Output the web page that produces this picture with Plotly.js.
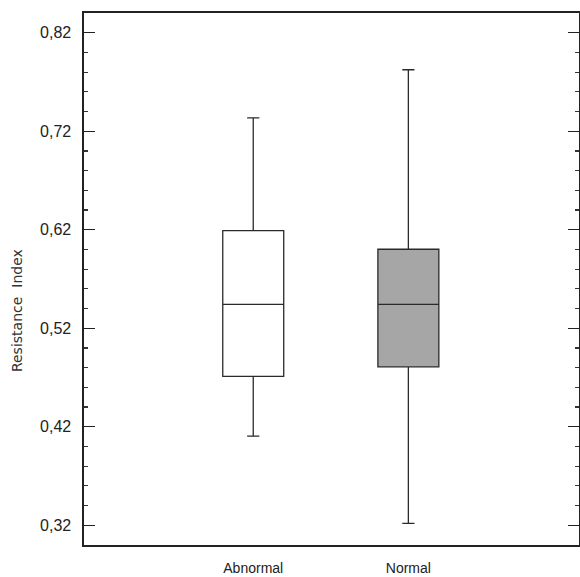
<!DOCTYPE html>
<html>
<head>
<meta charset="utf-8">
<script src="https://cdn.plot.ly/plotly-3.0.1.min.js"></script>
<style>html,body{margin:0;padding:0;background:#fff;}#chart{width:580px;height:577px;}</style>
</head>
<body>
<div id="chart"></div>
<script>
const categories = ["Abnormal", "Normal"];
const lowerWhisker = [0.4105, 0.322];
const q1Values = [0.4711, 0.4809];
const medianValues = [0.5443, 0.5443];
const q3Values = [0.6191, 0.6002];
const upperWhisker = [0.7336, 0.7824];
const yTickValues = [0.32, 0.42, 0.52, 0.62, 0.72, 0.82];
const yTickLabels = ["0,32", "0,42", "0,52", "0,62", "0,72", "0,82"];
const fillColors = ["#ffffff", "#a6a6a6"];

const traces = categories.map((c, i) => ({
  type: "box",
  name: c,
  x: [i],
  q1: [q1Values[i]],
  median: [medianValues[i]],
  q3: [q3Values[i]],
  lowerfence: [lowerWhisker[i]],
  upperfence: [upperWhisker[i]],
  width: 0.393,
  whiskerwidth: 0.2,
  fillcolor: fillColors[i],
  line: { color: "#2a2a2a", width: 1.3 },
  boxpoints: false,
  hoverinfo: "skip",
  showlegend: false
}));

const layout = {
  width: 580,
  height: 577,
  margin: { l: 84, r: 1, t: 13, b: 32 },
  paper_bgcolor: "#ffffff",
  plot_bgcolor: "#ffffff",
  separators: ",.",
  font: { family: "Arial", color: "#222", size: 15 },
  xaxis: {
    range: [-1.091, 2.1],
    tickvals: [0, 1],
    ticktext: categories,
    ticks: "",
    showgrid: false,
    zeroline: false,
    showline: true,
    mirror: true,
    linecolor: "#222",
    linewidth: 1.6,
    tickfont: { size: 14, family: "Arial", color: "#222" },
    ticklabelstandoff: 10
  },
  yaxis: {
    range: [0.30, 0.84],
    tickvals: yTickValues,
    ticktext: yTickLabels,
    ticks: "inside",
    ticklen: 11,
    tickwidth: 1.3,
    tickcolor: "#222",
    minor: { dtick: 0.02, tick0: 0.32, ticks: "inside", ticklen: 4, tickwidth: 1.2, tickcolor: "#333", showgrid: false },
    showgrid: false,
    zeroline: false,
    showline: true,
    mirror: "ticks",
    linecolor: "#222",
    linewidth: 1.6,
    tickfont: { size: 16, family: "Arial", color: "#222" },
    ticklabelstandoff: 8
  },
  annotations: [{
    text: "Resistance  Index",
    xref: "paper", yref: "paper",
    x: -0.135, y: 0.44,
    xanchor: "center", yanchor: "middle",
    textangle: -90,
    showarrow: false,
    font: { size: 14, family: "DejaVu Sans", color: "#333" }
  }]
};

Plotly.newPlot("chart", traces, layout, { staticPlot: true, displayModeBar: false });
</script>
</body>
</html>
